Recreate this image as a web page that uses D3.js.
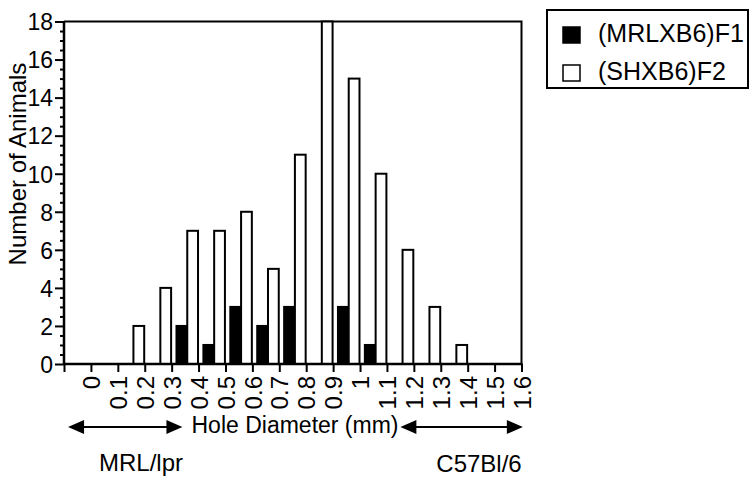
<!DOCTYPE html>
<html>
<head>
<meta charset="utf-8">
<script src="https://cdn.jsdelivr.net/npm/d3@7"></script>
<style>
  body { margin: 0; background: #fff; }
  text { font-family: 'Liberation Sans', Arial, Helvetica, sans-serif; fill: #000; }
</style>
</head>
<body>
<div class="svgcontainer"></div>
<script>
// hole diameter bins (mm) and counts per strain
const diameters = [0, 0.1, 0.2, 0.3, 0.4, 0.5, 0.6, 0.7, 0.8, 0.9, 1.0, 1.1, 1.2, 1.3, 1.4, 1.5, 1.6];
const f1Counts = [0, 0, 0, 0, 2, 1, 3, 2, 3, 0, 3, 1, 0, 0, 0, 0, 0];
const f2Counts = [0, 0, 2, 4, 7, 7, 8, 5, 11, 18, 15, 10, 6, 3, 1, 0, 0];
const seriesNames = ['(MRLXB6)F1', '(SHXB6)F2'];
const yTicks = [0, 2, 4, 6, 8, 10, 12, 14, 16, 18];
const xTickValues = [-0.1, 0, 0.1, 0.2, 0.3, 0.4, 0.5, 0.6, 0.7, 0.8, 0.9, 1.0, 1.1, 1.2, 1.3, 1.4, 1.5, 1.6];

const svg = d3
  .select('.svgcontainer')
  .append('svg')
  .attr('width', 753)
  .attr('height', 481);

const x = d3.scaleLinear().domain([-0.1, 1.6]).range([64, 521.5]);
const y = d3.scaleLinear().domain([0, 18]).range([364, 21.5]);
const bw = x(0.1) - x(0);

const x1 = d3
  .scaleBand()
  .domain(seriesNames)
  .range([bw * 0.18, bw * 0.98]);

const rows = diameters.map((d, i) => ({d: d, F1: f1Counts[i], F2: f2Counts[i]}));

const bars = [];
rows.forEach(function(r) {
  if (r.F1 > 0) bars.push({d: r.d, key: seriesNames[0], v: r.F1});
  if (r.F2 > 0) bars.push({d: r.d, key: seriesNames[1], v: r.F2});
});

// frame top and right
svg.append('path')
  .attr('d', `M${x(-0.1)},${y(18)}H${x(1.6)}V${y(0)}`)
  .attr('fill', 'none')
  .attr('stroke', '#000')
  .attr('stroke-width', 2);

svg.append('g')
  .selectAll('rect')
  .data(bars)
  .enter()
  .append('rect')
  .attr('x', d => x(d.d - 0.1) + x1(d.key))
  .attr('y', d => y(d.v))
  .attr('width', x1.bandwidth())
  .attr('height', d => y(0) - y(d.v))
  .attr('fill', d => (d.key === seriesNames[0] ? '#000' : '#fff'))
  .attr('stroke', '#000')
  .attr('stroke-width', 2);

// y axis
const yAxis = svg.append('g').attr('transform', `translate(${x(-0.1)},0)`);
yAxis.call(d3.axisLeft(y).tickValues(d3.range(0, 18.01, 0.5)).tickSize(4).tickFormat(''));
yAxis.call(g => g.selectAll('.tick').filter(d => d % 2 === 0).select('line').attr('x2', -9));
yAxis.selectAll('.tick')
  .filter(d => d % 2 === 0)
  .append('text')
  .attr('x', -11)
  .attr('dy', '0.36em')
  .attr('text-anchor', 'end')
  .style('font-size', '23px')
  .text(d => d);
yAxis.selectAll('line').attr('stroke', '#000').attr('stroke-width', 2);
yAxis.select('.domain').remove();

svg.append('line')
  .attr('x1', x(-0.1)).attr('x2', x(-0.1))
  .attr('y1', y(18)).attr('y2', y(0) + 1)
  .attr('stroke', '#000').attr('stroke-width', 2.5);

// x axis
const xAxis = svg.append('g').attr('transform', `translate(0,${y(0)})`);
xAxis.call(d3.axisBottom(x).tickValues(xTickValues).tickSize(8).tickFormat(''));
xAxis.selectAll('line').attr('stroke', '#000').attr('stroke-width', 2);
xAxis.select('.domain').remove();
xAxis.selectAll('.tick')
  .filter(d => d >= 0)
  .append('text')
  .attr('transform', 'translate(0,12) rotate(-90)')
  .attr('dy', '0.36em')
  .attr('text-anchor', 'end')
  .style('font-size', '24px')
  .text(d => String(+d.toFixed(1)));

svg.append('line')
  .attr('x1', x(-0.1)).attr('x2', x(1.6) + 1)
  .attr('y1', y(0)).attr('y2', y(0))
  .attr('stroke', '#000').attr('stroke-width', 2.5);

// y title
svg.append('text')
  .attr('transform', 'translate(26,164) rotate(-90)')
  .attr('text-anchor', 'middle')
  .style('font-size', '24px')
  .text('Number of Animals');

// x title with arrows
svg.append('text')
  .attr('x', 295)
  .attr('y', 433)
  .attr('text-anchor', 'middle')
  .style('font-size', '23px')
  .text('Hole Diameter (mm)');

function arrow(a, b, yy) {
  const x0 = x(a);
  const x1p = x(b);
  const g = svg.append('g');
  g.append('line')
    .attr('x1', x0 + 10).attr('x2', x1p - 10)
    .attr('y1', yy).attr('y2', yy)
    .attr('stroke', '#000').attr('stroke-width', 2);
  g.append('path')
    .attr('d', `M${x0},${yy}L${x0 + 16},${yy - 7}V${yy + 7}Z`)
    .attr('fill', '#000');
  g.append('path')
    .attr('d', `M${x1p},${yy}L${x1p - 16},${yy - 7}V${yy + 7}Z`)
    .attr('fill', '#000');
}
arrow(-0.085, 0.34, 427);
arrow(1.15, 1.605, 427);

svg.append('text')
  .attr('x', 141)
  .attr('y', 471)
  .attr('text-anchor', 'middle')
  .style('font-size', '24px')
  .text('MRL/lpr');

svg.append('text')
  .attr('x', 479)
  .attr('y', 472)
  .attr('text-anchor', 'middle')
  .style('font-size', '24px')
  .text('C57Bl/6');

// legend
const legend = svg.append('g');
legend.append('rect')
  .attr('x', 547).attr('y', 10)
  .attr('width', 201).attr('height', 78)
  .attr('fill', '#fff')
  .attr('stroke', '#000')
  .attr('stroke-width', 2);

const items = legend
  .selectAll('.item')
  .data(seriesNames)
  .enter()
  .append('g')
  .attr('class', 'item')
  .attr('transform', (d, i) => `translate(563,${27 + i * 38})`);

items.append('rect')
  .attr('width', 17)
  .attr('height', 16)
  .attr('fill', (d, i) => (i === 0 ? '#000' : '#fff'))
  .attr('stroke', '#000')
  .attr('stroke-width', 1.5);

items.append('text')
  .attr('x', 35)
  .attr('y', 15)
  .style('font-size', '25px')
  .text(d => d);
</script>
</body>
</html>
